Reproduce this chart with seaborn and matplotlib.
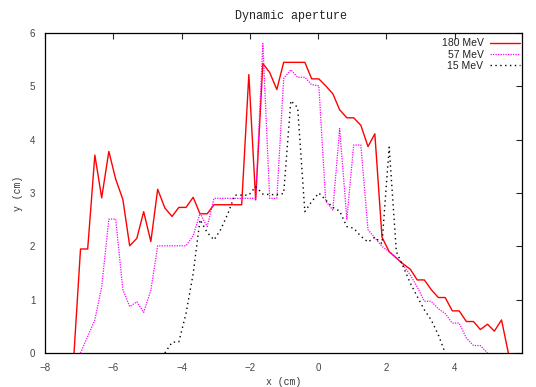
import numpy as np
import pandas as pd
import matplotlib
matplotlib.use("Agg")
import matplotlib.pyplot as plt
import seaborn as sns

# shared x grid (cm)
x_cm = [-7.15, -6.96, -6.75, -6.54, -6.34, -6.13, -5.93, -5.72, -5.52, -5.31,
        -5.11, -4.90, -4.70, -4.49, -4.28, -4.08, -3.87, -3.66, -3.46, -3.25,
        -3.05, -2.85, -2.64, -2.44, -2.24, -2.03, -1.83, -1.62, -1.42, -1.21,
        -1.01, -0.80, -0.60, -0.39, -0.19, 0.02, 0.22, 0.43, 0.63, 0.84,
        1.04, 1.25, 1.46, 1.66, 1.87, 2.08, 2.29, 2.49, 2.70, 2.90,
        3.11, 3.31, 3.52, 3.72, 3.93, 4.13, 4.34, 4.55, 4.75, 4.96,
        5.16, 5.37, 5.57]

nan = np.nan
y_180 = [0, 1.95, 1.95, 3.71, 2.91, 3.78, 3.26, 2.88, 2.01, 2.15,
         2.65, 2.09, 3.07, 2.72, 2.56, 2.73, 2.73, 2.92, 2.61, 2.61,
         2.78, 2.78, 2.78, 2.78, 2.78, 5.22, 2.87, 5.43, 5.26, 4.94,
         5.45, 5.45, 5.45, 5.45, 5.14, 5.14, 5.01, 4.86, 4.56, 4.41,
         4.41, 4.27, 3.87, 4.11, 2.17, 1.90, 1.78, 1.67, 1.57, 1.37,
         1.37, 1.19, 1.04, 1.04, 0.79, 0.79, 0.59, 0.59, 0.44, 0.54,
         0.41, 0.62, 0]
y_57 = [nan, 0, 0.31, 0.62, 1.24, 2.51, 2.51, 1.19, 0.87, 0.96,
        0.76, 1.18, 2.01, 2.01, 2.01, 2.01, 2.01, 2.20, 2.62, 2.37,
        2.90, 2.90, 2.90, 2.90, 2.90, 2.90, 2.90, 5.80, 2.90, 2.90,
        5.15, 5.31, 5.17, 5.17, 5.03, 5.01, 2.85, 2.68, 4.21, 2.51,
        3.90, 3.90, 2.31, 2.16, 2.00, 1.90, 1.79, 1.65, 1.46, 1.24,
        0.97, 0.97, 0.83, 0.74, 0.56, 0.56, 0.28, 0.14, 0.14, 0,
        nan, nan, nan]
y_15 = [nan, nan, nan, nan, nan, nan, nan, nan, nan, nan,
        nan, nan, nan, 0, 0.20, 0.21, 0.74, 1.49, 2.50, 2.26,
        2.12, 2.32, 2.62, 2.96, 2.96, 2.96, 3.12, 2.98, 2.97, 2.97,
        2.99, 4.73, 4.60, 2.65, 2.84, 3.00, 2.87, 2.73, 2.66, 2.37,
        2.34, 2.19, 2.08, 2.17, 2.05, 3.86, 1.90, 1.62, 1.31, 1.06,
        0.81, 0.62, 0.34, 0, nan, nan, nan, nan, nan, nan,
        nan, nan, nan]

labels = ["180 MeV", "57 MeV", "15 MeV"]
colors = ["#ff0000", "#ff00ff", "#000000"]
styles = ["-", (0, (1, 1)), (0, (1, 2.5))]
widths = [1.0, 0.9, 1.0]

sns.set_style("white")
plt.rcParams['font.family'] = ['Liberation Sans', 'DejaVu Sans']

fig = plt.figure(figsize=(5.36, 3.87), dpi=100)
ax = fig.add_axes([45/536, 1-353/387, 477/536, 320/387])

for lab, ys, c, ls, lw in zip(labels, [y_180, y_57, y_15], colors, styles, widths):
    df = pd.DataFrame({"x": x_cm, "y": ys}).dropna()
    sns.lineplot(data=df, x="x", y="y", color=c, linestyle=ls, linewidth=lw,
                 estimator=None, sort=False, label=lab, ax=ax)

ax.set_xlim(-8, 5.97)
ax.set_ylim(0, 6)
ax.set_xticks([-8, -6, -4, -2, 0, 2, 4])
ax.set_xticklabels(["\u22128", "\u22126", "\u22124", "\u22122", "0", "2", "4"])
ax.set_yticks(range(0, 7))
ax.tick_params(direction='in', top=True, right=True, length=4, width=0.8,
               labelsize=7, labelcolor='#444444', pad=7)
for s in ax.spines.values():
    s.set_color('black')
    s.set_linewidth(0.9)

mono = ['Liberation Mono', 'DejaVu Sans Mono']
ax.set_xlabel("x (cm)", family=mono, fontsize=7, color='#333333', labelpad=3)
ax.set_ylabel("y (cm)", family=mono, fontsize=7, color='#333333', labelpad=5)
fig.text(291/536, 1-16/387, "Dynamic aperture", family=mono, fontsize=8.5,
         color='#222222', ha='center', va='center')

leg = ax.legend(loc='upper right', frameon=False, markerfirst=False,
                alignment='right', fontsize=7.5, handlelength=2.9,
                handletextpad=0.6, labelspacing=0.12, borderaxespad=0.0,
                borderpad=0.2, bbox_to_anchor=(1.0, 0.99))
for t in leg.get_texts():
    t.set_color('#222222')

fig.savefig("out.png", dpi=100)
